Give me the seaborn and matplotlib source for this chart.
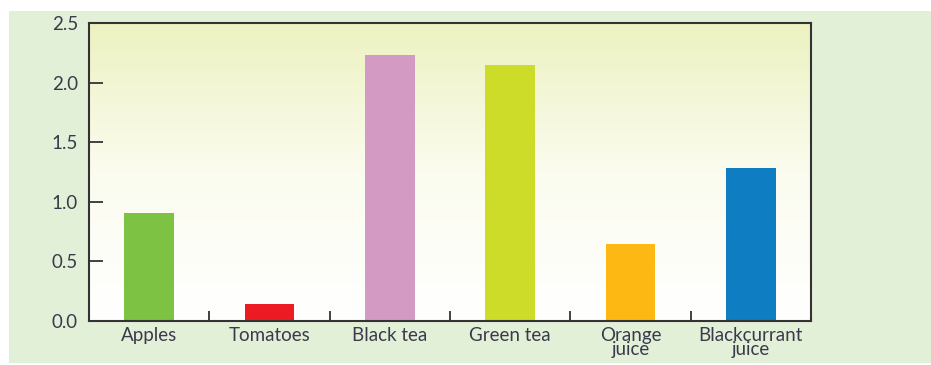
import numpy as np
import pandas as pd
import matplotlib
matplotlib.use("Agg")
import matplotlib.pyplot as plt
from matplotlib.patches import Rectangle
from matplotlib.colors import LinearSegmentedColormap
import seaborn as sns

# Data
categories = ["Apples", "Tomatoes", "Black tea", "Green tea", "Orange\njuice", "Blackcurrant\njuice"]
values = [0.91, 0.14, 2.23, 2.15, 0.65, 1.28]
bar_colors = ["#7dc242", "#ed1c24", "#d39bc3", "#cddc29", "#fdb813", "#0f7dc2"]
y_ticks = [0.0, 0.5, 1.0, 1.5, 2.0, 2.5]

sns.set_theme(style="white")
plt.rcParams["font.family"] = ["Lato", "DejaVu Sans"]

W, H = 931, 365
fig = plt.figure(figsize=(W / 100, H / 100), dpi=100)
fig.patch.set_facecolor("white")

# pale green panel behind the chart
fig.patches.append(Rectangle((9 / W, 2 / H), (W - 9) / W, (363 - 11) / H,
                             transform=fig.transFigure, facecolor="#e3f0d8",
                             edgecolor="none", zorder=-10))

ax = fig.add_axes([89 / W, (H - 321) / H, (811 - 89) / W, (321 - 23) / H])
ax.set_zorder(1)

df = pd.DataFrame({"item": categories, "value": values})
sns.barplot(data=df, x="item", y="value", hue="item", palette=bar_colors,
            legend=False, width=0.41, saturation=1, linewidth=0, ax=ax, zorder=3)

# vertical yellow-to-white gradient inside the plot area
grad = LinearSegmentedColormap.from_list("bg", ["#ffffff", "#fbfcef", "#ecf2c0"])
ax.imshow(np.linspace(0, 1, 256).reshape(-1, 1), cmap=grad, origin="lower",
          extent=[-0.5, len(categories) - 0.5, 0, 2.5], aspect="auto", zorder=0)

ax.set_xlim(-0.5, len(categories) - 0.5)
ax.set_ylim(0, 2.5)
ax.set_xlabel("")
ax.set_ylabel("")

text_color = "#3b3a4c"
ax.set_yticks(y_ticks)
ax.set_yticklabels([f"{t:.1f}" for t in y_ticks], fontsize=13.5, color=text_color)
ax.tick_params(axis="y", direction="in", length=10, width=1.3, color="#333333",
               left=True, pad=8)

ax.set_xticks(range(len(categories)))
ax.set_xticklabels(categories, fontsize=13.5, color=text_color, linespacing=0.85)
ax.set_xticks(np.arange(0.5, len(categories) - 0.5, 1), minor=True)
ax.tick_params(axis="x", which="major", length=0, pad=4)
ax.tick_params(axis="x", which="minor", direction="in", length=7, width=1.3,
               color="#333333", bottom=True)

for s in ax.spines.values():
    s.set_visible(True)
    s.set_color("#333333")
    s.set_linewidth(1.5)
    s.set_zorder(5)

fig.savefig("out.png", dpi=100)
